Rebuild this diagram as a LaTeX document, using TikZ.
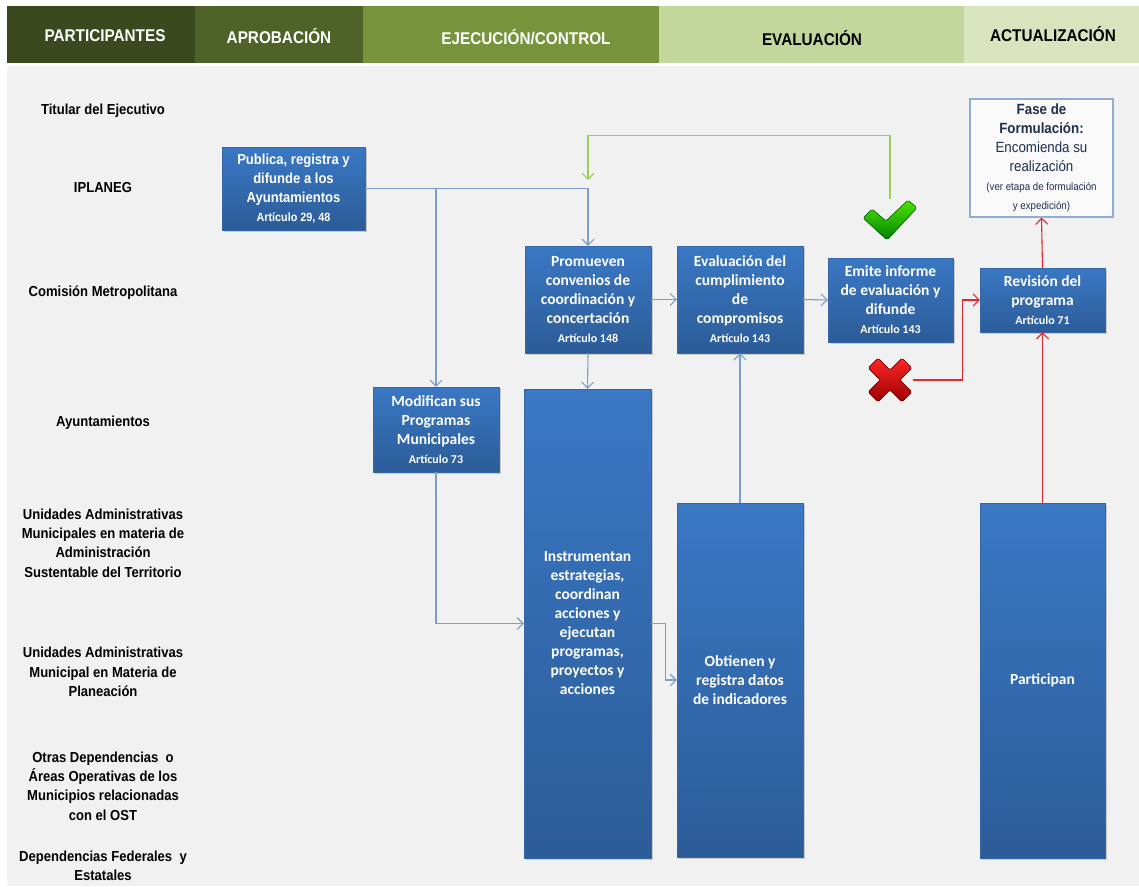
\documentclass[tikz,border=0pt]{standalone}
\usepackage{fontspec}
\setmainfont{Carlito}
\newfontfamily\narrowfont[FakeStretch=0.9]{Liberation Sans}
\usetikzlibrary{arrows.meta,shadows,calc}

\definecolor{hdrA}{HTML}{3A4A1E}
\definecolor{hdrB}{HTML}{4F6228}
\definecolor{hdrC}{HTML}{77933C}
\definecolor{hdrD}{HTML}{C3D69B}
\definecolor{hdrE}{HTML}{D7E4BD}
\definecolor{panel}{HTML}{F1F1F1}
\definecolor{boxtop}{HTML}{3A78C4}
\definecolor{boxbot}{HTML}{2C5C98}
\definecolor{boxline}{HTML}{3566A6}
\definecolor{flowblue}{HTML}{7C9ECB}
\definecolor{flowred}{HTML}{E0282E}
\definecolor{flowgreen}{HTML}{9BCF5A}
\definecolor{navy}{HTML}{1F2F4F}

\newcommand\art[1]{{\fontsize{12}{13}\selectfont #1}}

\tikzset{
  boxblue/.style={rectangle, top color=boxtop, bottom color=boxbot, draw=boxline,
    line width=0.4pt, text=white, align=center, inner sep=2pt,
    font=\bfseries\fontsize{15.5}{19}\selectfont,
    drop shadow={shadow xshift=1.5pt,shadow yshift=-2pt,opacity=0.35}},
  lane/.style={align=center, text=black, font=\narrowfont\bfseries\fontsize{14.5}{19.3}\selectfont},
  hdr/.style={font=\narrowfont\bfseries\fontsize{17}{19}\selectfont},
  flow/.style={draw=flowblue, line width=1.1pt, -{Straight Barb[length=6pt,width=12pt]}},
  flowr/.style={flow, draw=flowred},
  flowg/.style={flow, draw=flowgreen},
}

\begin{document}
\begin{tikzpicture}[x=1pt,y=-1pt]
      \useasboundingbox (0,0) rectangle (1139,886);
      \fill[white] (0,0) rectangle (1139,886);
      \fill[panel] (7,66) rectangle (1139,886);
      
      %encabezado
      \foreach \xa/\xb/\col in {7/195/hdrA,195/363/hdrB,363/659/hdrC,659/964/hdrD,964/1139/hdrE}  {
      	\fill[\col] (\xa,6) rectangle (\xb,63);
      }
      \node[hdr,text=white] (hPart) at (105,36) {PARTICIPANTES};
      \node[hdr,text=white] (hAprob) at (279,36) {APROBACIÓN};
      \node[hdr,text=white] (hEjec) at (526,37) {EJECUCIÓN/CONTROL};
      \node[hdr,text=black] (hEval) at (812,38) {EVALUACIÓN};
      \node[hdr,text=black] (hActu) at (1053,34) {ACTUALIZACIÓN};
      
      %participantes
      \node[lane] (lTitular) at (103,111) {Titular del Ejecutivo};
      \node[lane] (lIplaneg) at (103,188) {IPLANEG};
      \node[lane] (lComision) at (103,293) {Comisión Metropolitana};
      \node[lane] (lAyunt) at (103,423) {Ayuntamientos};
      \node[lane] (lUnidAst) at (103,543) {Unidades Administrativas\\Municipales en materia de\\Administración\\Sustentable del Territorio};
      \node[lane] (lUnidPlan) at (103,672) {Unidades Administrativas\\Municipal en Materia de\\Planeación};
      \node[lane] (lOtras) at (103,786) {Otras Dependencias~ o\\Áreas Operativas de los\\Municipios relacionadas\\con el OST};
      \node[lane] (lFed) at (103,866) {Dependencias Federales~ y\\Estatales};
      
      %cajas
      \node[boxblue,minimum width=143,minimum height=83,font=\narrowfont\bfseries\fontsize{14.5}{19}\selectfont] (pub) at (293.5,188.5)
      	{Publica, registra y\\difunde a los\\Ayuntamientos\\\art{Artículo 29, 48}};
      \node[boxblue,minimum width=126,minimum height=107] (prom) at (588,299.5)
      	{Promueven\\convenios de\\coordinación y\\concertación\\\art{Artículo 148}};
      \node[boxblue,minimum width=126,minimum height=107] (evalc) at (740,299.5)
      	{Evaluación del\\cumplimiento\\de\\compromisos\\\art{Artículo 143}};
      \node[boxblue,minimum width=125,minimum height=84] (emite) at (890.5,300)
      	{Emite informe\\de evaluación y\\difunde\\\art{Artículo 143}};
      \node[boxblue,minimum width=125,minimum height=64] (revis) at (1042.5,300)
      	{Revisión del\\programa\\\art{Artículo 71}};
      \node[boxblue,minimum width=126,minimum height=85] (modif) at (436,429.5)
      	{Modifican sus\\Programas\\Municipales\\\art{Artículo 73}};
      \node[boxblue,minimum width=127,minimum height=469] (instr) at (587.5,623.5)
      	{Instrumentan\\estrategias,\\coordinan\\acciones y\\ejecutan\\programas,\\proyectos y\\acciones};
      \node[boxblue,minimum width=126,minimum height=354] (obt) at (740,680)
      	{Obtienen y\\registra datos\\de indicadores};
      \node[boxblue,minimum width=125,minimum height=355] (part) at (1042.5,680.5) {Participan};
      \node[rectangle,draw=flowblue!85!white,line width=1.2pt,fill=white!60!panel,minimum width=143,minimum height=118,
      	align=center,text=navy,font=\narrowfont\fontsize{14.8}{19}\selectfont] (fase) at (1041.5,158)
      	{{\bfseries Fase de}\\{\bfseries Formulación:}\\Encomienda su\\realización\\{\fontsize{10.8}{16}\selectfont (ver etapa de formulación}\\{\fontsize{10.8}{14}\selectfont y expedición)}};
      
      %palomita y tache
      \node[minimum width=54,minimum height=42,inner sep=0] (ok) at (890,220) {};
      \node[minimum width=46,minimum height=46,inner sep=0] (ko) at (890,380) {};
      \begin{scope}[shift={(ok.center)}]
      	\filldraw[top color=green!55!lime!90!black,bottom color=green!50!black,draw=green!35!black,line width=0.5pt,rounded corners=1.5pt]
      	(-27,-2) -- (-18,-11) -- (-4,1) -- (18,-20) -- (27,-12) -- (-3,20) -- cycle;
      \end{scope}
      \begin{scope}[shift={(ko.center)},rotate=45]
      	\filldraw[top color=red!85!white,bottom color=red!60!black,draw=red!45!black,line width=0.6pt,rounded corners=1.5pt]
      	(7,7) -- (24,7) -- (24,-7) -- (7,-7) -- (7,-24) -- (-7,-24) -- (-7,-7) -- (-24,-7)
      	-- (-24,7) -- (-7,7) -- (-7,24) -- (7,24) -- cycle;
      \end{scope}
      
      %flechas
      \coordinate (back) at (588,180);
      \draw[flow] (pub.east) -| (prom.north);
      \draw[flow] (modif.north |- pub.east) -- (modif.north);
      \draw[flow] (prom.south) -- (instr.north);
      \draw[flow] (prom.east) -- (evalc.west);
      \draw[flow] (evalc.east) -- (emite.west);
      \draw[flow] (modif.south) |- (instr.west);
      \draw[flow] (instr.east) -- ($(instr.east)+(14,0)$) |- (obt.west);
      \draw[flow] (obt.north) -- (evalc.south);
      \draw[flowg] (ok.north) -- ++(0,-63) -| (back);
      \draw[flowr] (ko.east) -- ++(49,0) |- (revis.west);
      \draw[flowr] (revis.north) -- (fase.south);
      \draw[flowr] (part.north) -- (revis.south);
      
\end{tikzpicture}
\end{document}
